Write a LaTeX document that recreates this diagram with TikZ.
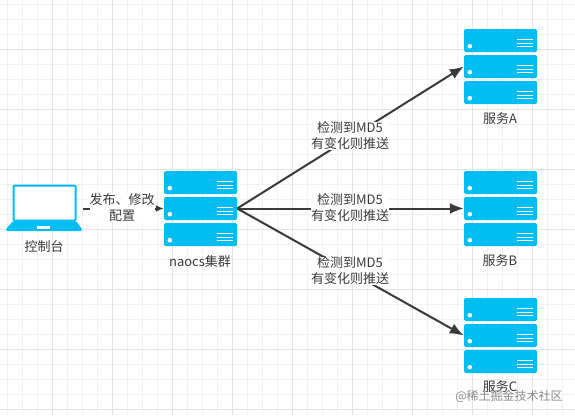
\documentclass[tikz,border=0pt]{standalone}
\usepackage{fontspec}
\setmainfont{Noto Sans CJK SC}
\usetikzlibrary{arrows.meta,calc}
\definecolor{srv}{HTML}{00BEF4}
\definecolor{txt}{HTML}{3A3A3A}
\definecolor{gmin}{HTML}{F1F1F1}
\definecolor{gmaj}{HTML}{E4E4E4}
\tikzset{
  unit/.style={fill=srv,rounded corners=1.5pt,minimum width=73pt,minimum height=23pt,inner sep=0pt,draw=none},
  lbl/.style={font=\fontsize{13}{16}\selectfont,text=txt,align=center,inner sep=0.5pt},
  edgelbl/.style={lbl,fill=white,inner sep=0pt},
  conn/.style={draw=txt,line width=2pt,-{Latex[length=14pt,width=11pt]}},
  connsmall/.style={draw=txt,line width=2pt,-{Latex[length=8pt,width=7pt]}}
}
\newcommand{\srvunit}[3]{%
  \node[unit] (#1) at (#2,#3) {};
  \fill[white] ($(#1.south west)+(6,-6)$) circle (2.3pt);
  \foreach \d in {5.5,9,12.5} \draw[white,line width=1pt] ($(#1.south east)+(-20,-\d)$) -- ++(16,0);
}
\begin{document}
\begin{tikzpicture}[x=1pt,y=-1pt]
\useasboundingbox (0,0) rectangle (575,415);
\fill[white] (0,0) rectangle (575,415);
\foreach \x in {7,22,...,577} \draw[gmin,line width=0.8pt] (\x,0) -- (\x,415);
\foreach \y in {4,19,...,415} \draw[gmin,line width=0.8pt] (0,\y) -- (575,\y);
\foreach \x in {52,112,...,577} \draw[gmaj,line width=0.8pt] (\x,0) -- (\x,415);
\foreach \y in {49,109,...,415} \draw[gmaj,line width=0.8pt] (0,\y) -- (575,\y);

% laptop
\node[draw=srv,line width=2pt,rounded corners=1pt,fill=white,minimum width=62pt,minimum height=35pt,inner sep=0pt] (laptop) at (44.5,203) {};
\fill[srv,rounded corners=1.5pt] (13,221) -- (76,221) -- (82,229) -- (82,231) -- (6,231) -- (6,229) -- cycle;
\fill[white] (37,226) rectangle (50,228.5);
\node[lbl] (lapl) at (44,247) {控制台};

\srvunit{n1}{200.5}{182.5}
\srvunit{n2}{200.5}{208.5}
\srvunit{n3}{200.5}{234.5}
\node[lbl] (nl) at (200,262) {naocs集群};

\srvunit{a1}{500.5}{40.5}
\srvunit{a2}{500.5}{66.5}
\srvunit{a3}{500.5}{92.5}
\node[lbl] (al) at (500,119) {服务A};

\srvunit{b1}{500.5}{182.5}
\srvunit{b2}{500.5}{208.5}
\srvunit{b3}{500.5}{234.5}
\node[lbl] (bl) at (500,261) {服务B};

\srvunit{c1}{500.5}{309.5}
\srvunit{c2}{500.5}{335.5}
\srvunit{c3}{500.5}{361.5}
\node[lbl] (cl) at (500,387) {服务C};

\draw[connsmall] (laptop.east |- n2.west) ++(6,0) coordinate (ls) -- (n2.west);
\draw[conn] (n2.east) -- (a2.west);
\draw[conn] (n2.east) -- (b2.west);
\draw[conn] (n2.east) -- (c2.west);

\node[edgelbl] (e0) at (122,208) {发布、修改\\配置};
\node[edgelbl] (e1) at (350,136) {检测到MD5\\有变化则推送};
\node[edgelbl] (e2) at (350,208) {检测到MD5\\有变化则推送};
\node[edgelbl] (e3) at (350,271) {检测到MD5\\有变化则推送};

\node[font=\fontsize{12}{15}\selectfont,text=black!45,inner sep=0pt] (wm) at (509,396) {@稀土掘金技术社区};
\end{tikzpicture}
\end{document}
